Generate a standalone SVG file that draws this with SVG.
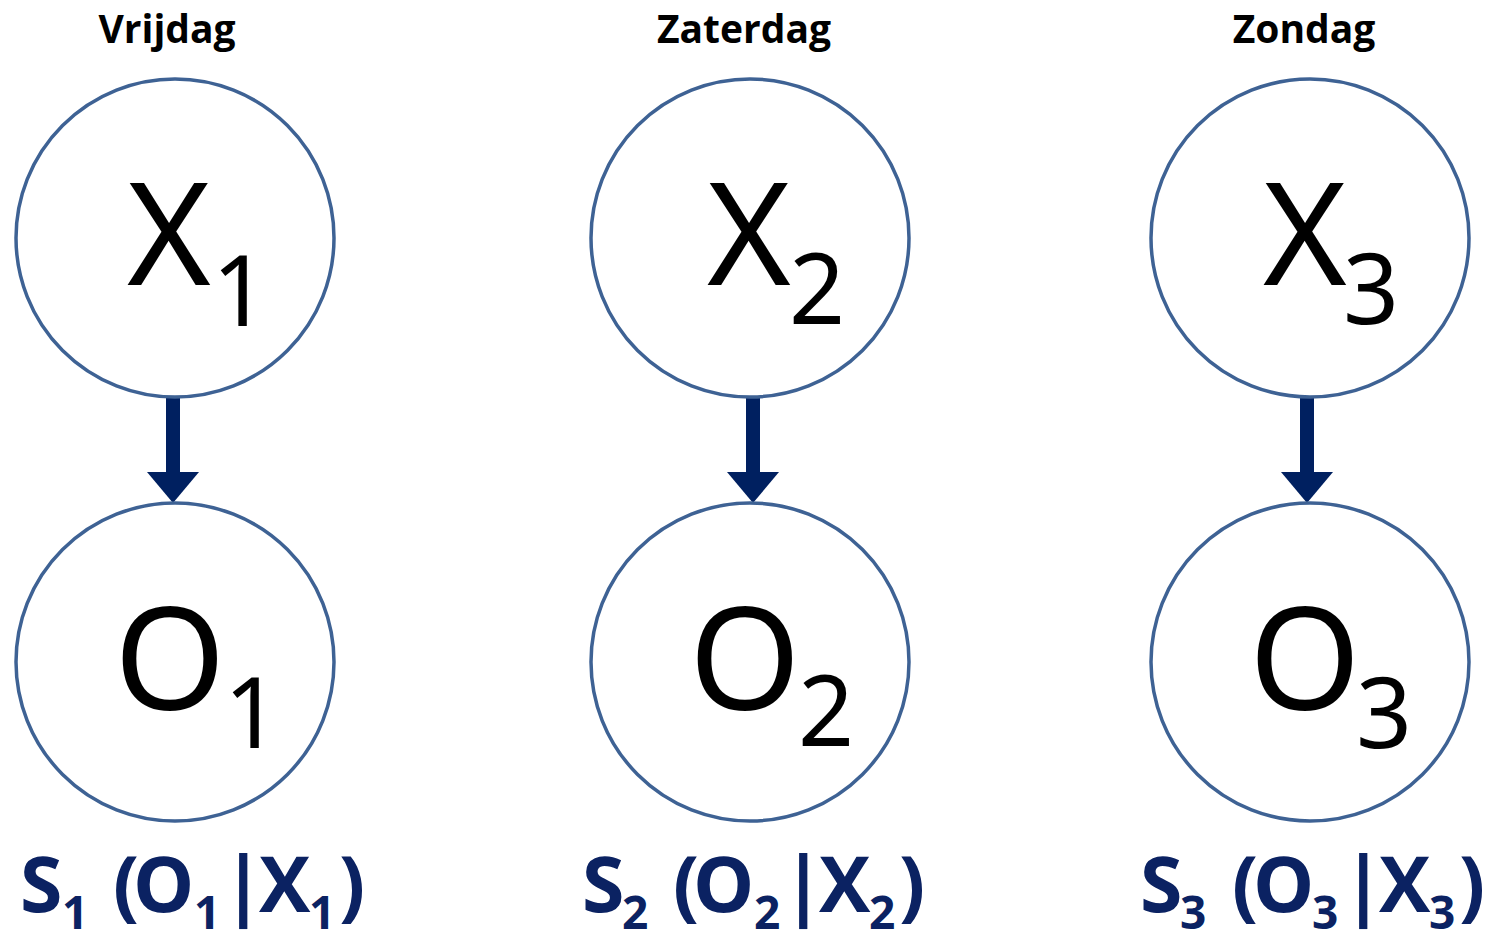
<svg xmlns="http://www.w3.org/2000/svg" width="1490" height="934" viewBox="0 0 1490 934">
<style>
.node{fill:#ffffff;stroke:#3E6294;stroke-width:3.5}
.title{font-family:"Open Sans","Liberation Sans",sans-serif;font-weight:bold;font-size:39px;fill:#000;text-anchor:middle}
.big{font-family:"Noto Sans","Liberation Sans",sans-serif;font-size:143px;fill:#000}
.sub{font-family:"Noto Sans","Liberation Sans",sans-serif;font-size:98px;fill:#000}
.lab{font-family:"Open Sans","Liberation Sans",sans-serif;font-weight:bold;font-size:77px;fill:#0B2262}
.lsub{font-size:46px}
.shaft{stroke:#002060;stroke-width:14;fill:none}
.head{fill:#002060}
</style>
<rect width="1490" height="934" fill="#ffffff"/>
<g id="titles">
<text class="title" x="167" y="43">Vrijdag</text>
<text class="title" x="744" y="43">Zaterdag</text>
<text class="title" x="1304" y="43">Zondag</text>
</g>
<g id="connectors">
<line class="shaft" x1="173" y1="397" x2="173" y2="474"/>
<polygon class="head" points="147,472 199,472 173,503"/>
<line class="shaft" x1="753" y1="397" x2="753" y2="474"/>
<polygon class="head" points="727,472 779,472 753,503"/>
<line class="shaft" x1="1307" y1="397" x2="1307" y2="474"/>
<polygon class="head" points="1281,472 1333,472 1307,503"/>
</g>
<g id="X1">
<circle class="node" cx="175" cy="238" r="159"/>
<text class="big" x="127" y="285">X</text><text class="sub" x="212" y="326">1</text>
</g>
<g id="X2">
<circle class="node" cx="750" cy="238" r="159"/>
<text class="big" x="707" y="285">X</text><text class="sub" x="789" y="324">2</text>
</g>
<g id="X3">
<circle class="node" cx="1310" cy="238" r="159"/>
<text class="big" x="1263" y="285">X</text><text class="sub" x="1343" y="324">3</text>
</g>
<g id="O1">
<circle class="node" cx="175" cy="662" r="159"/>
<text class="big" x="114" y="710">O</text><text class="sub" x="224" y="748">1</text>
</g>
<g id="O2">
<circle class="node" cx="750" cy="662" r="159"/>
<text class="big" x="689" y="710">O</text><text class="sub" x="798" y="746">2</text>
</g>
<g id="O3">
<circle class="node" cx="1310" cy="662" r="159"/>
<text class="big" x="1249" y="710">O</text><text class="sub" x="1356" y="748">3</text>
</g>
<g id="labels">
<text class="lab" y="912"><tspan x="20">S</tspan><tspan class="lsub" x="62" y="929">1</tspan><tspan x="113" y="912">(</tspan><tspan x="133">O</tspan><tspan class="lsub" x="194" y="929">1</tspan><tspan x="222" y="912">|</tspan><tspan x="259">X</tspan><tspan class="lsub" x="309" y="929">1</tspan><tspan x="339" y="912">)</tspan></text>
<text class="lab" y="912"><tspan x="582">S</tspan><tspan class="lsub" x="622" y="929">2</tspan><tspan x="673" y="912">(</tspan><tspan x="693">O</tspan><tspan class="lsub" x="754" y="929">2</tspan><tspan x="782" y="912">|</tspan><tspan x="819">X</tspan><tspan class="lsub" x="869" y="929">2</tspan><tspan x="899" y="912">)</tspan></text>
<text class="lab" y="912"><tspan x="1140">S</tspan><tspan class="lsub" x="1180" y="929">3</tspan><tspan x="1232" y="912">(</tspan><tspan x="1253">O</tspan><tspan class="lsub" x="1312" y="929">3</tspan><tspan x="1342" y="912">|</tspan><tspan x="1379">X</tspan><tspan class="lsub" x="1429" y="929">3</tspan><tspan x="1459" y="912">)</tspan></text>
</g>
</svg>
